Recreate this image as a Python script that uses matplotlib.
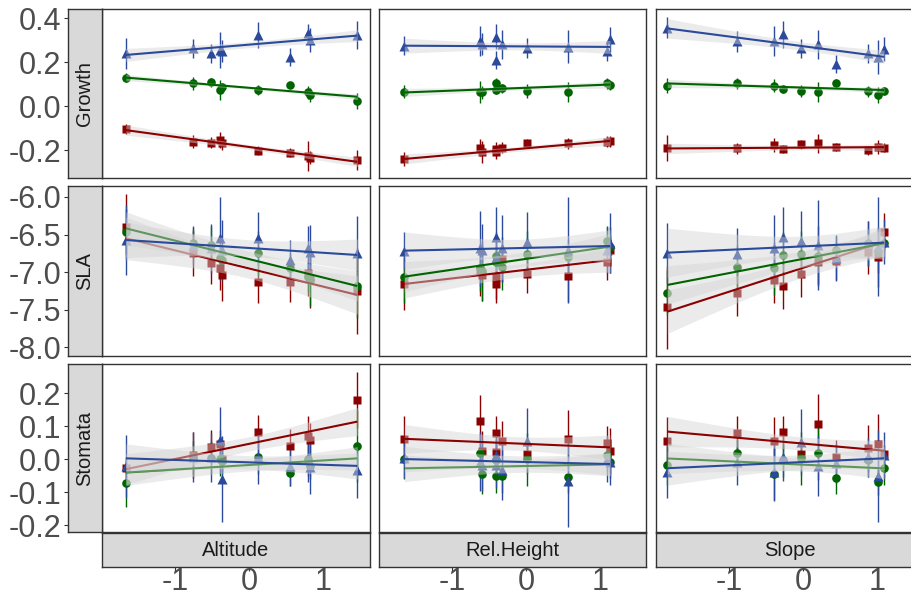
import numpy as np
import matplotlib
matplotlib.use("Agg")
import matplotlib.pyplot as plt

plt.rcParams['font.family'] = ['Liberation Sans', 'DejaVu Sans']
plt.rcParams['axes.unicode_minus'] = False

# ---------------- data ----------------
responses = ["Growth", "SLA", "Stomata"]
predictors = ["Altitude", "Rel.Height", "Slope"]
groups = ["red", "green", "blue"]

x_alt = [-1.67, -0.76, -0.51, -0.39, -0.36, 0.12, 0.56, 0.80, 0.83, 1.47]
x_rel = [-1.65, -0.63, -0.59, -0.41, -0.40, -0.33, 0.02, 0.57, 1.10, 1.14]
x_slope = [-1.84, -0.90, -0.39, -0.27, -0.02, 0.21, 0.45, 0.88, 1.02, 1.10]

# fits: (intercept, slope, residual sd) for red, green, blue
# Growth ~ Altitude
growth_alt_red = [-0.105, -0.162, -0.167, -0.155, -0.170, -0.203, -0.212, -0.226, -0.235, -0.245]
growth_alt_red_se = [0.023, 0.03, 0.025, 0.035, 0.03, 0.02, 0.02, 0.068, 0.03, 0.045]
growth_alt_green = [0.129, 0.103, 0.108, 0.073, 0.085, 0.073, 0.095, 0.062, 0.050, 0.023]
growth_alt_green_se = [0.02, 0.03, 0.02, 0.044, 0.02, 0.023, 0.015, 0.03, 0.03, 0.038]
growth_alt_blue = [0.239, 0.262, 0.239, 0.255, 0.25, 0.323, 0.224, 0.33, 0.30, 0.323]
growth_alt_blue_se = [0.07, 0.042, 0.045, 0.08, 0.05, 0.06, 0.04, 0.045, 0.053, 0.064]
growth_alt_fit = [(-0.186, -0.0459, 0.015), (0.083, -0.0277, 0.009), (0.279, 0.028, 0.019)]

# Growth ~ Rel.Height
growth_rel_red = [-0.241, -0.189, -0.207, -0.21, -0.195, -0.189, -0.167, -0.17, -0.162, -0.159]
growth_rel_red_se = [0.03, 0.04, 0.05, 0.03, 0.03, 0.025, 0.015, 0.027, 0.025, 0.025]
growth_rel_green = [0.065, 0.062, 0.062, 0.106, 0.073, 0.08, 0.068, 0.062, 0.103, 0.095]
growth_rel_green_se = [0.03, 0.05, 0.03, 0.02, 0.02, 0.02, 0.03, 0.045, 0.025, 0.02]
growth_rel_blue = [0.274, 0.295, 0.28, 0.315, 0.209, 0.28, 0.262, 0.27, 0.25, 0.303]
growth_rel_blue_se = [0.044, 0.068, 0.05, 0.057, 0.04, 0.064, 0.045, 0.076, 0.045, 0.057]
growth_rel_fit = [(-0.192, 0.0294, 0.015), (0.083, 0.0129, 0.012), (0.271, -0.002, 0.022)]

# Growth ~ Slope
growth_slope_red = [-0.192, -0.192, -0.177, -0.195, -0.174, -0.17, -0.186, -0.201, -0.186, -0.189]
growth_slope_red_se = [0.06, 0.025, 0.03, 0.02, 0.02, 0.045, 0.02, 0.02, 0.03, 0.02]
growth_slope_green = [0.092, 0.103, 0.092, 0.077, 0.068, 0.062, 0.103, 0.068, 0.05, 0.068]
growth_slope_green_se = [0.034, 0.024, 0.03, 0.02, 0.028, 0.045, 0.02, 0.025, 0.036, 0.02]
growth_slope_blue = [0.356, 0.295, 0.295, 0.326, 0.262, 0.28, 0.19, 0.239, 0.224, 0.258]
growth_slope_blue_se = [0.047, 0.048, 0.068, 0.06, 0.044, 0.066, 0.04, 0.042, 0.078, 0.055]
growth_slope_fit = [(-0.189, 0.002, 0.014), (0.084, -0.0102, 0.011), (0.272, -0.0439, 0.026)]

# SLA ~ Altitude
sla_alt_red = [-6.395, -6.749, -6.882, -6.94, -7.037, -7.126, -7.126, -7.015, -7.082, -7.246]
sla_alt_red_se = [0.43, 0.3, 0.27, 0.3, 0.35, 0.28, 0.27, 0.3, 0.4, 0.57]
sla_alt_green = [-6.46, -6.616, -6.638, -6.816, -6.84, -6.749, -6.94, -7.06, -7.104, -7.184]
sla_alt_green_se = [0.3, 0.2, 0.25, 0.25, 0.2, 0.3, 0.2, 0.2, 0.35, 0.43]
sla_alt_blue = [-6.572, -6.638, -6.683, -6.55, -6.705, -6.55, -6.838, -6.683, -6.727, -6.749]
sla_alt_blue_se = [0.47, 0.25, 0.33, 0.55, 0.4, 0.35, 0.27, 0.3, 0.35, 0.5]
sla_alt_fit = [(-6.95, -0.2398, 0.18), (-6.825, -0.2443, 0.14), (-6.678, -0.0634, 0.15)]

# SLA ~ Rel.Height
sla_rel_red = [-7.157, -6.971, -7.037, -7.06, -7.157, -6.83, -7.024, -7.051, -6.86, -6.705]
sla_rel_red_se = [0.35, 0.35, 0.35, 0.3, 0.25, 0.3, 0.25, 0.35, 0.25, 0.3]
sla_rel_green = [-7.06, -6.949, -6.98, -6.785, -6.86, -6.936, -6.758, -6.802, -6.58, -6.66]
sla_rel_green_se = [0.35, 0.3, 0.4, 0.25, 0.2, 0.3, 0.3, 0.25, 0.2, 0.15]
sla_rel_blue = [-6.714, -6.683, -6.705, -6.528, -6.816, -6.683, -6.594, -6.705, -6.705, -6.616]
sla_rel_blue_se = [0.25, 0.5, 0.35, 0.4, 0.35, 0.45, 0.4, 0.7, 0.3, 0.4]
sla_rel_fit = [(-6.968, 0.1143, 0.12), (-6.823, 0.1434, 0.13), (-6.677, 0.0222, 0.16)]

# SLA ~ Slope
sla_slope_red = [-7.467, -7.281, -7.104, -7.184, -7.024, -6.86, -6.847, -6.727, -6.802, -6.461]
sla_slope_red_se = [0.55, 0.3, 0.3, 0.3, 0.3, 0.3, 0.25, 0.3, 0.4, 0.25]
sla_slope_green = [-7.272, -6.936, -6.949, -6.771, -6.758, -6.785, -6.705, -6.616, -6.714, -6.616]
sla_slope_green_se = [0.3, 0.3, 0.35, 0.3, 0.3, 0.4, 0.2, 0.3, 0.3, 0.2]
sla_slope_blue = [-6.74, -6.758, -6.683, -6.528, -6.58, -6.638, -6.816, -6.616, -6.66, -6.594]
sla_slope_blue_se = [0.4, 0.35, 0.45, 0.4, 0.4, 0.6, 0.3, 0.3, 0.66, 0.3]
sla_slope_fit = [(-6.942, 0.3167, 0.17), (-6.823, 0.1884, 0.15), (-6.657, 0.0452, 0.19)]

# Stomata ~ Altitude
stom_alt_red = [-0.028, 0.012, 0.037, 0.047, 0.0, 0.083, 0.04, 0.07, 0.058, 0.179]
stom_alt_red_se = [0.03, 0.07, 0.05, 0.04, 0.04, 0.05, 0.05, 0.06, 0.05, 0.085]
stom_alt_green = [-0.074, 0.004, 0.004, -0.001, -0.005, 0.005, -0.043, -0.001, -0.021, 0.039]
stom_alt_green_se = [0.07, 0.05, 0.05, 0.05, 0.04, 0.05, 0.04, 0.05, 0.04, 0.11]
stom_alt_blue = [-0.021, 0.007, 0.005, 0.058, -0.061, 0.005, -0.021, -0.001, -0.025, -0.033]
stom_alt_blue_se = [0.095, 0.075, 0.075, 0.1, 0.13, 0.08, 0.06, 0.07, 0.08, 0.085]
stom_alt_fit = [(0.046, 0.0459, 0.030), (-0.018, 0.0137, 0.025), (-0.010, -0.0073, 0.028)]

# Stomata ~ Rel.Height
stom_rel_red = [0.061, 0.115, 0.025, 0.08, 0.022, 0.056, 0.014, 0.06, 0.05, 0.025]
stom_rel_red_se = [0.07, 0.08, 0.06, 0.05, 0.04, 0.06, 0.03, 0.09, 0.05, 0.07]
stom_rel_green = [-0.001, 0.017, -0.045, -0.052, -0.003, -0.052, -0.001, -0.054, 0.012, -0.008]
stom_rel_green_se = [0.06, 0.06, 0.06, 0.05, 0.04, 0.05, 0.08, 0.05, 0.05, 0.05]
stom_rel_blue = [0.002, -0.008, -0.018, 0.012, -0.018, -0.033, 0.056, -0.066, -0.001, -0.008]
stom_rel_blue_se = [0.06, 0.09, 0.08, 0.07, 0.07, 0.09, 0.1, 0.14, 0.07, 0.07]
stom_rel_fit = [(0.046, -0.0093, 0.028), (-0.021, 0.0043, 0.026), (-0.009, -0.0054, 0.025)]

# Stomata ~ Slope
stom_slope_red = [0.056, 0.08, 0.056, 0.081, 0.015, 0.106, 0.007, 0.032, 0.045, 0.014]
stom_slope_red_se = [0.07, 0.05, 0.07, 0.05, 0.04, 0.09, 0.05, 0.07, 0.09, 0.03]
stom_slope_green = [-0.018, 0.019, -0.045, -0.003, 0.002, 0.017, -0.056, -0.003, -0.069, -0.028]
stom_slope_green_se = [0.06, 0.05, 0.08, 0.05, 0.08, 0.08, 0.05, 0.05, 0.04, 0.05]
stom_slope_blue = [-0.038, -0.008, -0.038, 0.005, 0.053, -0.021, -0.013, 0.005, -0.052, 0.012]
stom_slope_blue_se = [0.08, 0.07, 0.09, 0.07, 0.1, 0.09, 0.06, 0.06, 0.14, 0.07]
stom_slope_fit = [(0.047, -0.0197, 0.027), (-0.017, -0.0102, 0.027), (-0.009, 0.0102, 0.030)]

y_ticks_growth = [-0.2, 0.0, 0.2, 0.4]
y_ticks_sla = [-8.0, -7.5, -7.0, -6.5, -6.0]
y_ticks_stom = [-0.2, -0.1, 0.0, 0.1, 0.2]
x_ticks = [-1, 0, 1]

# ---------------- assemble ----------------
xs_by_pred = [x_alt, x_rel, x_slope]
panel_data = {
    (0, 0): ([growth_alt_red, growth_alt_green, growth_alt_blue],
             [growth_alt_red_se, growth_alt_green_se, growth_alt_blue_se], growth_alt_fit),
    (0, 1): ([growth_rel_red, growth_rel_green, growth_rel_blue],
             [growth_rel_red_se, growth_rel_green_se, growth_rel_blue_se], growth_rel_fit),
    (0, 2): ([growth_slope_red, growth_slope_green, growth_slope_blue],
             [growth_slope_red_se, growth_slope_green_se, growth_slope_blue_se], growth_slope_fit),
    (1, 0): ([sla_alt_red, sla_alt_green, sla_alt_blue],
             [sla_alt_red_se, sla_alt_green_se, sla_alt_blue_se], sla_alt_fit),
    (1, 1): ([sla_rel_red, sla_rel_green, sla_rel_blue],
             [sla_rel_red_se, sla_rel_green_se, sla_rel_blue_se], sla_rel_fit),
    (1, 2): ([sla_slope_red, sla_slope_green, sla_slope_blue],
             [sla_slope_red_se, sla_slope_green_se, sla_slope_blue_se], sla_slope_fit),
    (2, 0): ([stom_alt_red, stom_alt_green, stom_alt_blue],
             [stom_alt_red_se, stom_alt_green_se, stom_alt_blue_se], stom_alt_fit),
    (2, 1): ([stom_rel_red, stom_rel_green, stom_rel_blue],
             [stom_rel_red_se, stom_rel_green_se, stom_rel_blue_se], stom_rel_fit),
    (2, 2): ([stom_slope_red, stom_slope_green, stom_slope_blue],
             [stom_slope_red_se, stom_slope_green_se, stom_slope_blue_se], stom_slope_fit),
}
row_ticks = [y_ticks_growth, y_ticks_sla, y_ticks_stom]

colors = {"red": "#8B0000", "green": "#006400", "blue": "#2B4A9B"}
markers = {"red": "s", "green": "o", "blue": "^"}
msizes = {"red": 6.2, "green": 6.2, "blue": 7.2}

W, H = 911, 600
fig = plt.figure(figsize=(W / 100, H / 100), dpi=100)
fig.patch.set_facecolor("white")


def rect(x0, y0, x1, y1):
    return [x0 / W, 1 - y1 / H, (x1 - x0) / W, (y1 - y0) / H]


cols_px = [(101.5, 369.5), (378.5, 646.5), (655.5, 923.5)]
rows_px = [(9, 178), (186, 356), (364, 532)]
ylims = [(-0.327, 0.441), (-8.114, -5.854), (-0.221, 0.288)]
xlim = (-2.0, 1.635)
border_col = "#333333"
tick_kw = dict(length=4 * 0.72, width=0.8, color=border_col,
               labelsize=22, labelcolor="#4D4D4D")


def fmt(v):
    return f"{v:.1f}"


for (r, c), (ys, ses, fits) in panel_data.items():
    x0, x1 = cols_px[c]
    y0, y1 = rows_px[r]
    ax = fig.add_axes(rect(x0, y0, x1, y1))
    ax.set_xlim(*xlim)
    ax.set_ylim(*ylims[r])
    ax.set_xticks([])
    ax.set_yticks([])
    for sp in ax.spines.values():
        sp.set_color(border_col)
        sp.set_linewidth(1.0)
    x = np.array(xs_by_pred[c])
    # error bars
    for g, y, e in zip(groups, ys, ses):
        y = np.array(y); e = np.array(e)
        ax.vlines(x, y - e, y + e, color=colors[g], lw=1.0, zorder=2)
    # points
    for g, y in zip(groups, ys):
        ax.plot(x, y, ls="none", marker=markers[g], ms=msizes[g],
                color=colors[g], mec="none", zorder=3)
    # smooth: ribbon + line per group (drawn after points, like ggplot layers)
    z = 4
    n = len(x)
    xm = x.mean()
    sxx = ((x - xm) ** 2).sum()
    xs = np.linspace(x.min(), x.max(), 120)
    for g, (a, b, s) in zip(groups, fits):
        half = 2.306 * s * np.sqrt(1 / n + (xs - xm) ** 2 / sxx)
        yhat = a + b * xs
        ax.fill_between(xs, yhat - half, yhat + half, color="#D4D4D4",
                        alpha=0.45, lw=0, zorder=z)
        ax.plot(xs, yhat, color=colors[g], lw=1.5, zorder=z + 0.5,
                solid_capstyle="butt")
        z += 1

# left strips with y axes
for r, (y0, y1) in enumerate(rows_px):
    sax = fig.add_axes(rect(68, y0, 101.5, y1))
    sax.set_facecolor("#D9D9D9")
    for sp in sax.spines.values():
        sp.set_color(border_col)
        sp.set_linewidth(1.0)
    sax.set_ylim(*ylims[r])
    sax.set_xticks([])
    sax.set_yticks(row_ticks[r])
    sax.set_yticklabels([fmt(v) for v in row_ticks[r]])
    sax.tick_params(axis="y", pad=2, **tick_kw)
    sax.text(0.5, 0.5, responses[r], rotation=90, ha="center", va="center",
             transform=sax.transAxes, fontsize=14.5, color="#1A1A1A")

# bottom strips with x axes
for c, (x0, x1) in enumerate(cols_px):
    bax = fig.add_axes(rect(x0, 533, x1, 567))
    bax.set_facecolor("#D9D9D9")
    for sp in bax.spines.values():
        sp.set_color(border_col)
        sp.set_linewidth(1.0)
    bax.set_xlim(*xlim)
    bax.set_yticks([])
    bax.set_xticks(x_ticks)
    bax.set_xticklabels([str(v) for v in x_ticks])
    bax.tick_params(axis="x", pad=-3.2, **tick_kw)
    bax.text(0.5, 0.5, predictors[c], ha="center", va="center",
             transform=bax.transAxes, fontsize=14.5, color="#1A1A1A")

fig.savefig("out.png", dpi=100)
